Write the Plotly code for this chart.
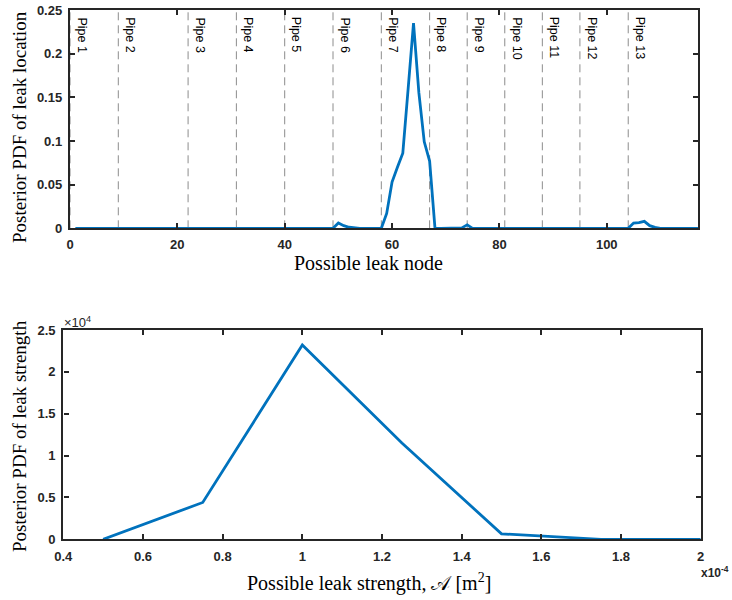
import plotly.graph_objects as go

# ---- Posterior PDF of leak location over candidate nodes ----
nodes = list(range(1, 118))
location_pdf = [
    0, 0, 0, 0, 0, 0, 0, 0, 0, 0,            # 1-10
    0, 0, 0, 0, 0, 0, 0, 0, 0, 0,            # 11-20
    0, 0, 0, 0, 0, 0, 0, 0, 0, 0,            # 21-30
    0, 0, 0, 0, 0, 0, 0, 0, 0, 0,            # 31-40
    0, 0, 0, 0, 0, 0, 0, 0, 0, 0.006,        # 41-50
    0.003, 0.0012, 0.0005, 0, 0, 0, 0, 0, 0.017, 0.053,   # 51-60
    0.070, 0.086, 0.160, 0.235, 0.155, 0.099, 0.077, 0, 0, 0,  # 61-70
    0, 0, 0.0005, 0.004, 0, 0, 0, 0, 0, 0,   # 71-80
    0, 0, 0, 0, 0, 0, 0, 0, 0, 0,            # 81-90
    0, 0, 0, 0, 0, 0, 0, 0, 0, 0,            # 91-100
    0, 0, 0, 0, 0.006, 0.0065, 0.008, 0.003, 0.001, 0,  # 101-110
    0, 0, 0, 0, 0, 0, 0,                     # 111-117
]

# Pipe boundaries (node where each pipe starts) and their labels
pipe_nodes = [0, 9, 22, 31, 40, 49, 58, 67, 74, 81, 88, 95, 104]
pipe_labels = [f"Pipe {i}" for i in range(1, 14)]

# ---- Posterior PDF of leak strength ----
strength = [0.5e-4, 0.75e-4, 1.0e-4, 1.25e-4, 1.5e-4, 1.75e-4, 2.0e-4]
strength_pdf = [0, 4400, 23200, 11500, 650, 0, 0]

top_x_ticks = [0, 20, 40, 60, 80, 100]
top_y_ticks = [0, 0.05, 0.1, 0.15, 0.2, 0.25]
top_y_text = ["0", "0.05", "0.1", "0.15", "0.2", "0.25"]
bot_x_ticks = [0.4e-4, 0.6e-4, 0.8e-4, 1.0e-4, 1.2e-4, 1.4e-4, 1.6e-4, 1.8e-4, 2.0e-4]
bot_x_text = ["0.4", "0.6", "0.8", "1", "1.2", "1.4", "1.6", "1.8", "2"]
bot_y_ticks = [0, 5000, 10000, 15000, 20000, 25000]
bot_y_text = ["0", "0.5", "1", "1.5", "2", "2.5"]

W, H = 732, 600
BLUE = "#0072BD"
AX = "#262626"
TICK_FONT = dict(family="Liberation Sans, Arial", size=13, color=AX, weight="bold")
SERIF = "Liberation Serif, Times New Roman"


def px_x(p):
    return p / W


def px_y(p):
    return 1 - p / H


fig = go.Figure()
fig.add_trace(go.Scatter(x=nodes, y=location_pdf, mode="lines",
                         line=dict(color=BLUE, width=2.8), xaxis="x", yaxis="y",
                         showlegend=False))
fig.add_trace(go.Scatter(x=strength, y=strength_pdf, mode="lines",
                         line=dict(color=BLUE, width=2.8), xaxis="x2", yaxis="y2",
                         showlegend=False))

axis_common = dict(showline=True, linecolor=AX, linewidth=2.4, mirror="ticks",
                   ticks="inside", ticklen=5, tickwidth=2.4, tickcolor=AX,
                   showgrid=False, zeroline=False, tickfont=TICK_FONT,
                   automargin=False)

fig.update_layout(
    width=W, height=H,
    margin=dict(l=0, r=0, t=0, b=0),
    plot_bgcolor="white", paper_bgcolor="white",
    xaxis=dict(domain=[px_x(70), px_x(698)], range=[0, 117], tickvals=top_x_ticks,
               anchor="y", ticklabelstandoff=3, **axis_common),
    yaxis=dict(domain=[px_y(228.3), px_y(10)], range=[0, 0.25], tickvals=top_y_ticks,
               ticktext=top_y_text, anchor="x", ticklabelstandoff=3, **axis_common),
    xaxis2=dict(domain=[px_x(63.3), px_x(700.7)], range=[0.4e-4, 2.0e-4],
                tickvals=bot_x_ticks, ticktext=bot_x_text, anchor="y2",
                ticklabelstandoff=4, **axis_common),
    yaxis2=dict(domain=[px_y(539.3), px_y(330)], range=[0, 25000],
                tickvals=bot_y_ticks, ticktext=bot_y_text, anchor="x2",
                ticklabelstandoff=3, **axis_common),
)

# Dashed pipe boundaries with rotated labels
for n, lab in zip(pipe_nodes, pipe_labels):
    fig.add_shape(type="line", xref="x", yref="y domain", x0=n, x1=n, y0=0, y1=1,
                  line=dict(color="#8c8c8c", width=1, dash="8px,5px"), layer="below")
    fig.add_annotation(x=n, y=1, xref="x", yref="y domain", text=lab, textangle=90,
                       showarrow=False, xanchor="left", yanchor="top", xshift=3, yshift=-5,
                       font=dict(family="Liberation Sans, Arial", size=12.5, color="#000000"))

# Axis titles
fig.add_annotation(x=px_x(369), y=px_y(263), xref="paper", yref="paper",
                   text="Possible leak node", showarrow=False,
                   font=dict(family=SERIF, size=20, color="#000000"),
                   xanchor="center", yanchor="middle")
fig.add_annotation(x=px_x(19), y=px_y(127), xref="paper", yref="paper",
                   text="Posterior PDF of leak location", showarrow=False,
                   font=dict(family=SERIF, size=19, color="#000000"),
                   textangle=-90, xanchor="center", yanchor="middle")
fig.add_annotation(x=px_x(369), y=px_y(582), xref="paper", yref="paper",
                   text="Possible leak strength, 𝒜 [m<sup>2</sup>]", showarrow=False,
                   font=dict(family=SERIF, size=20, color="#000000"),
                   xanchor="center", yanchor="middle")
fig.add_annotation(x=px_x(19), y=px_y(436), xref="paper", yref="paper",
                   text="Posterior PDF of leak strength", showarrow=False,
                   font=dict(family=SERIF, size=19, color="#000000"),
                   textangle=-90, xanchor="center", yanchor="middle")

# Exponent labels
fig.add_annotation(x=px_x(62), y=px_y(322), xref="paper", yref="paper",
                   text="×10<sup>4</sup>", showarrow=False, xanchor="left", yanchor="middle",
                   font=dict(family="Liberation Sans, Arial", size=13, color=AX))
fig.add_annotation(x=px_x(731), y=px_y(572), xref="paper", yref="paper",
                   text="<b>x10<sup>-4</sup></b>", showarrow=False, xanchor="right",
                   yanchor="middle",
                   font=dict(family="Liberation Sans, Arial", size=12, color=AX))

fig.write_html("out.html")
